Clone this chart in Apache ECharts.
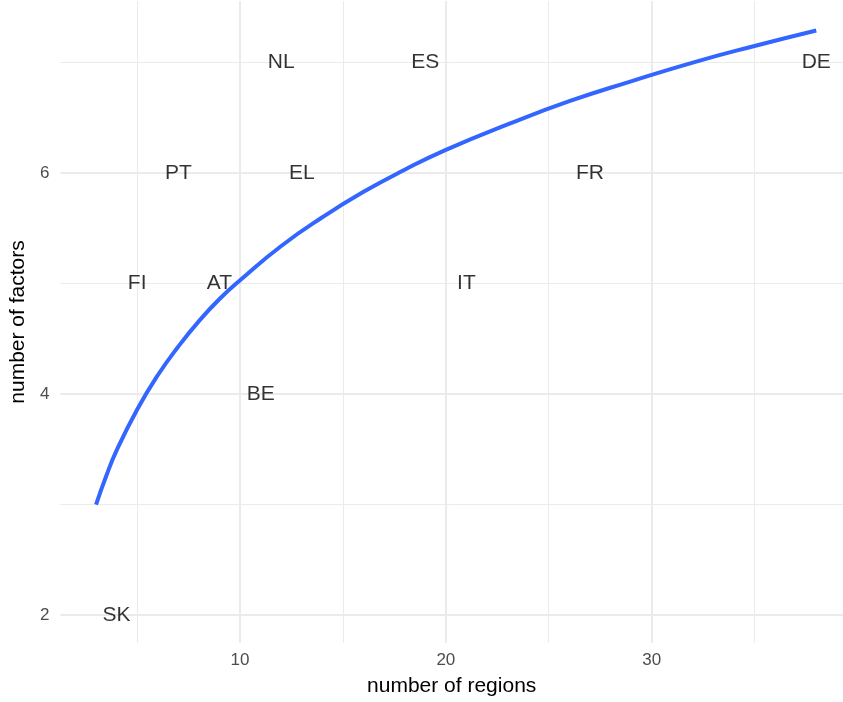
<!DOCTYPE html>
<html><head><meta charset="utf-8">
<script src="https://cdn.jsdelivr.net/npm/echarts@6/dist/echarts.min.js"></script>
<style>html,body{margin:0;padding:0;background:#fff}#c{width:843px;height:702px}</style>
</head><body><div id="c"></div>
<script>
const countries = ['SK','FI','PT','AT','BE','NL','EL','ES','IT','FR','DE'];
const regions = [4,5,7,9,11,12,13,19,21,27,38];
const factors = [2,5,6,5,4,7,6,7,5,6,7];
const curveX = [3,3.5,4,5,6,7,8,9,10,12,14,16,18,20,23,26,29,32,35,38];
const curveY = [3.00,3.26,3.49,3.86,4.17,4.43,4.66,4.86,5.03,5.34,5.60,5.83,6.03,6.21,6.44,6.65,6.83,7.00,7.15,7.29];
const xTicks = [10,20,30];
const yTicks = [2,4,6];
const xMajorGrid = [10,20,30];
const xMinorGrid = [5,15,25,35];
const yMajorGrid = [2,4,6];
const yMinorGrid = [3,5,7];

const FONT = '"Liberation Sans", Arial, Helvetica, sans-serif';
const GRID_COLOR = '#EBEBEB';

const gridLines = []
  .concat(xMinorGrid.map(v => ({xAxis: v, lineStyle: {width: 1}})))
  .concat(yMinorGrid.map(v => ({yAxis: v, lineStyle: {width: 1}})))
  .concat(xMajorGrid.map(v => ({xAxis: v, lineStyle: {width: 2}})))
  .concat(yMajorGrid.map(v => ({yAxis: v, lineStyle: {width: 2}})));

const chart = echarts.init(document.getElementById('c'), null, {renderer: 'canvas'});
chart.setOption({
  animation: false,
  backgroundColor: '#fff',
  textStyle: {fontFamily: FONT},
  grid: {left: 56, right: 0, top: 1, bottom: 57, containLabel: false},
  xAxis: {
    type: 'value', min: 1.266, max: 39.30, splitNumber: 4,
    axisLine: {show: false}, axisTick: {show: false}, splitLine: {show: false},
    axisLabel: {
      color: '#4D4D4D', fontSize: 17, fontFamily: FONT, margin: 9,
      showMinLabel: false, showMaxLabel: false,
      formatter: v => xTicks.includes(v) ? String(v) : ''
    },
    name: 'number of regions', nameLocation: 'middle', nameGap: 33,
    nameTextStyle: {color: '#000', fontSize: 21, fontFamily: FONT}
  },
  yAxis: {
    type: 'value', min: 1.747, max: 7.557, splitNumber: 3,
    axisLine: {show: false}, axisTick: {show: false}, splitLine: {show: false},
    axisLabel: {
      color: '#4D4D4D', fontSize: 17, fontFamily: FONT, margin: 11,
      showMinLabel: false, showMaxLabel: false,
      formatter: v => yTicks.includes(v) ? String(v) : ''
    },
    name: 'number of factors', nameLocation: 'middle', nameGap: 27, nameRotate: 90,
    nameTextStyle: {color: '#000', fontSize: 21, fontFamily: FONT}
  },
  series: [
    {
      type: 'line', z: 3, silent: true,
      data: curveX.map((x, i) => [x, curveY[i]]),
      smooth: true, showSymbol: false, symbol: 'none',
      lineStyle: {color: '#3366FF', width: 4, cap: 'butt'},
      markLine: {
        z: 1, silent: true, symbol: ['none', 'none'], animation: false,
        label: {show: false},
        lineStyle: {color: GRID_COLOR, type: 'solid'},
        emphasis: {disabled: true},
        data: gridLines
      }
    },
    {
      type: 'scatter', z: 4, silent: true,
      symbol: 'circle', symbolSize: 1,
      itemStyle: {color: 'rgba(0,0,0,0)'},
      data: regions.map((x, i) => ({value: [x, factors[i]], name: countries[i]})),
      label: {
        show: true, position: 'inside', formatter: '{b}',
        color: '#000', fontSize: 21, fontFamily: FONT
      }
    }
  ]
});
</script></body></html>
